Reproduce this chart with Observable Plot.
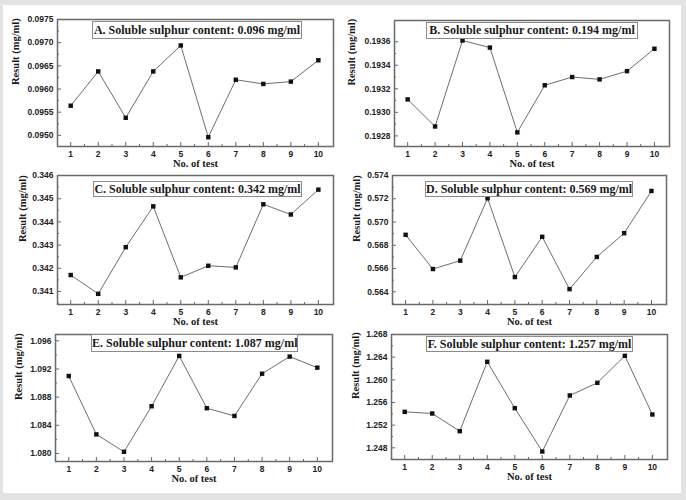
<!DOCTYPE html>
<html>
<head>
<meta charset="utf-8">
<script src="https://cdn.jsdelivr.net/npm/d3@7"></script>
<script src="https://cdn.jsdelivr.net/npm/@observablehq/plot@0.6"></script>
<style>
  body { margin: 0; background: #e3e3e3; }
  #page { position: relative; width: 686px; height: 500px; background: #e3e3e3; overflow: hidden; }
  #sheet { position: absolute; left: 3px; top: 5px; width: 678px; height: 488px; background: #fff; }
  .panel { position: absolute; }
  .panel svg { overflow: visible; }
  .key {
    position: absolute; box-sizing: border-box; border: 1px solid #8c8c8c; background: #fff;
    font: bold 12px "Liberation Serif", "Times New Roman", serif; color: #1a1a1a;
    text-align: center; white-space: nowrap; line-height: 15px;
  }
</style>
</head>
<body>
<div id="page"><div id="sheet"></div></div>
<script>
// Test number (x) for every series
const testNo = [1, 2, 3, 4, 5, 6, 7, 8, 9, 10];

// Measured results (mg/ml) for each soluble sulphur content
const resultA = [0.09564, 0.09638, 0.09538, 0.09638, 0.09694, 0.09496, 0.09620, 0.09611, 0.09616, 0.09662];
const resultB = [0.19311, 0.19288, 0.19361, 0.19355, 0.19283, 0.19323, 0.19330, 0.19328, 0.19335, 0.19354];
const resultC = [0.34171, 0.34090, 0.34291, 0.34467, 0.34161, 0.34211, 0.34204, 0.34476, 0.34432, 0.34539];
const resultD = [0.56890, 0.56596, 0.56668, 0.57204, 0.56527, 0.56873, 0.56423, 0.56700, 0.56904, 0.57267];
const resultE = [1.09100, 1.08271, 1.08024, 1.08671, 1.09386, 1.08643, 1.08533, 1.09133, 1.09376, 1.09219];
const resultF = [1.25435, 1.25406, 1.25094, 1.26318, 1.25500, 1.24735, 1.25724, 1.25947, 1.26424, 1.25388];

// Panel titles
const titles = [
  "A. Soluble sulphur content: 0.096 mg/ml",
  "B. Soluble sulphur content: 0.194 mg/ml",
  "C. Soluble sulphur content: 0.342 mg/ml",
  "D. Soluble sulphur content: 0.569 mg/ml",
  "E. Soluble sulphur content: 1.087 mg/ml",
  "F. Soluble sulphur content: 1.257 mg/ml"
];

// Major y tick values per panel
const yTicksA = [0.0950, 0.0955, 0.0960, 0.0965, 0.0970, 0.0975];
const yTicksB = [0.1928, 0.1930, 0.1932, 0.1934, 0.1936];
const yTicksC = [0.341, 0.342, 0.343, 0.344, 0.345, 0.346];
const yTicksD = [0.564, 0.566, 0.568, 0.570, 0.572, 0.574];
const yTicksE = [1.080, 1.084, 1.088, 1.092, 1.096];
const yTicksF = [1.248, 1.252, 1.256, 1.260, 1.264, 1.268];

const xLabel = "No. of test";
const yLabel = "Result (mg/ml)";

// Layout: svg origin, plot frame [left, top, right, bottom] in page pixels,
// y domain, decimals, title box [left, top, width, height]
const panels = [
  { values: resultA, ticks: yTicksA, step: 0.0005, digits: 4, domain: [0.09476, 0.0975],
    at: [0, 0], frame: [57, 19, 333, 146], ylab: 42, key: [92, 21, 210, 18] },
  { values: resultB, ticks: yTicksB, step: 0.0002, digits: 4, domain: [0.19271, 0.19378],
    at: [343, 0], frame: [394, 20, 669, 146], ylab: 43, key: [426, 22, 212, 17] },
  { values: resultC, ticks: yTicksC, step: 0.001, digits: 3, domain: [0.34044, 0.346],
    at: [0, 160], frame: [57, 175, 333, 304], ylab: 35, key: [93, 181, 209, 16] },
  { values: resultD, ticks: yTicksD, step: 0.002, digits: 3, domain: [0.56291, 0.574],
    at: [343, 160], frame: [392, 175, 666, 304], ylab: 36, key: [425, 181, 208, 16] },
  { values: resultE, ticks: yTicksE, step: 0.004, digits: 3, domain: [1.07886, 1.0969],
    at: [0, 320], frame: [55, 334, 332, 461], ylab: 37, key: [91, 334, 207, 18] },
  { values: resultF, ticks: yTicksF, step: 0.004, digits: 3, domain: [1.24594, 1.268],
    at: [343, 320], frame: [391, 334, 667, 459], ylab: 36, key: [426, 336, 207, 16] }
];

const sheet = document.getElementById("sheet");
const page = document.getElementById("page");
const W = 343, H = 176;
const serif = '"Liberation Serif", "Times New Roman", serif';

panels.forEach((p, i) => {
  const rows = testNo.map((n, j) => ({ n, v: p.values[j] }));
  const xMinor = testNo.slice(0, -1).map(n => n + 0.5);
  const yMinor = p.ticks.map(t => t - p.step / 2).filter(t => t > p.domain[0]);
  const [l, t, r, b] = p.frame;
  const chart = Plot.plot({
    width: W,
    height: H,
    marginLeft: l - p.at[0],
    marginTop: t - p.at[1],
    marginRight: p.at[0] + W - r,
    marginBottom: p.at[1] + H - b,
    x: { domain: [0.52, 10.55] },
    y: { domain: p.domain },
    style: {
      fontFamily: '"Liberation Sans", Arial, sans-serif',
      fontWeight: "bold",
      fontSize: "8.5px",
      color: "#222",
      background: "transparent",
      overflow: "visible"
    },
    marks: [
      Plot.axisX({ ticks: xMinor, tickSize: -2, tickFormat: () => "", label: null, stroke: "#666" }),
      Plot.axisX({ ticks: testNo, tickSize: -4, tickPadding: 8, tickFormat: d => String(d), label: null, stroke: "#666" }),
      Plot.axisY({ ticks: yMinor, tickSize: -2, tickFormat: () => "", label: null, stroke: "#666" }),
      Plot.axisY({ ticks: p.ticks, tickSize: -4, tickPadding: 8, tickFormat: d => d.toFixed(p.digits), label: null, stroke: "#666" }),
      Plot.line(rows, { x: "n", y: "v", stroke: "#6e6e6e", strokeWidth: 1 }),
      Plot.dot(rows, { x: "n", y: "v", symbol: "square", r: 2.5, fill: "#111", stroke: null }),
      Plot.frame({ stroke: "#6a6a6a", strokeWidth: 1.5 }),
      Plot.text([xLabel], { text: d => d, frameAnchor: "bottom", dy: 20, fontFamily: serif, fontSize: 10.5, fontWeight: "bold", fill: "#1a1a1a" }),
      Plot.text([yLabel], { text: d => d, frameAnchor: "left", rotate: -90, dx: -p.ylab, dy: 2, fontFamily: serif, fontSize: 10.5, fontWeight: "bold", fill: "#1a1a1a" })
    ]
  });
  const holder = document.createElement("div");
  holder.className = "panel";
  holder.style.left = p.at[0] + "px";
  holder.style.top = p.at[1] + "px";
  holder.appendChild(chart);
  page.appendChild(holder);

  const key = document.createElement("div");
  key.className = "key";
  key.textContent = titles[i];
  key.style.left = p.key[0] + "px";
  key.style.top = p.key[1] + "px";
  key.style.width = p.key[2] + "px";
  key.style.height = p.key[3] + "px";
  key.style.lineHeight = (p.key[3] - 2) + "px";
  page.appendChild(key);
});
</script>
</body>
</html>
